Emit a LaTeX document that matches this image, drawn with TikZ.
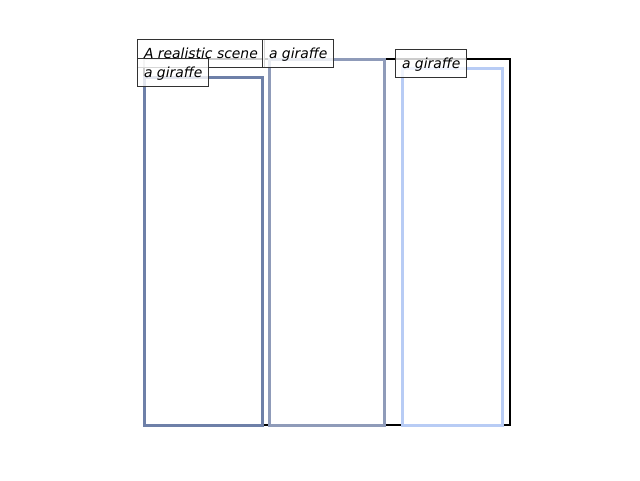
\documentclass[tikz,border=0pt]{standalone}
\usepackage{fontspec}
\setmainfont{DejaVu Sans}
\definecolor{cA}{RGB}{110,128,168}
\definecolor{cB}{RGB}{143,155,185}
\definecolor{cC}{RGB}{184,204,245}
\definecolor{lab}{RGB}{50,50,50}
\tikzset{
  lbl/.style={draw=lab, line width=1pt, fill=white, fill opacity=0.8, text opacity=1,
    anchor=south west, minimum height=28pt, inner xsep=6.5pt, inner ysep=0pt,
    font=\fontsize{13.9}{16}\selectfont\itshape, text depth=2pt, text height=12pt},
  scene/.style={draw=black, line width=2.6pt},
  gbox/.style={line width=3pt}
}
\begin{document}
\begin{tikzpicture}[x=1pt,y=-1pt]
\useasboundingbox (0,0) rectangle (640,480);
\draw[scene] (144,59) rectangle (510,425);
\draw[gbox, draw=cA] (144,77) rectangle (262,425);
\draw[gbox, draw=cB] (269,59) rectangle (384,425);
\draw[gbox, draw=cC] (402,68) rectangle (502,425);
\node[lbl] (s) at (137,68) {A realistic scene};
\node[lbl] (g2) at (262,68) {a giraffe};
\node[lbl] (g1) at (137,87) {a giraffe};
\node[lbl] (g3) at (395,78) {a giraffe};
\end{tikzpicture}
\end{document}
